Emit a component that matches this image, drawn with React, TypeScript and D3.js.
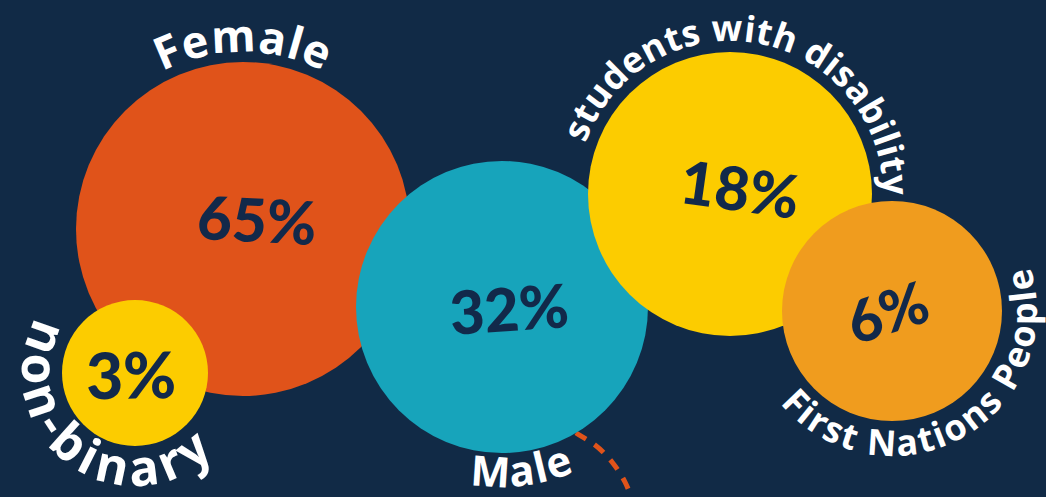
import React from "react";
import * as d3 from "d3";

// ---- data ----
const categories = ["Female", "non-binary", "Male", "students with disability", "First Nations People"];
const percentages = [65, 3, 32, 18, 6];

// ---- layout (pixels) ----
const W = 1046;
const H = 497;
const circleLayout = [
  { cx: 243, cy: 229, r: 167 },
  { cx: 135, cy: 373, r: 73 },
  { cx: 502, cy: 307, r: 146 },
  { cx: 730, cy: 194, r: 142 },
  { cx: 892, cy: 311, r: 110 },
];
const circleColors = ["#e0531a", "#fccc00", "#17a4bb", "#fccc00", "#f09c1e"];
// label arcs: direction, centre angle (deg, clockwise from top), baseline radius, font size, letter spacing
const labelLayout = [
  { dir: "cw", angle: 0, radius: 177, size: 45, spacing: 0.8 },
  { dir: "ccw", angle: 216, radius: 113, size: 50, spacing: 5.5 },
  { dir: "ccw", angle: 173, radius: 180, size: 42, spacing: 1.5 },
  { dir: "cw", angle: 10, radius: 153, size: 36, spacing: 0.3 },
  { dir: "ccw", angle: 151, radius: 145, size: 36, spacing: 2 },
];
// value text placement
const valueLayout = [
  { x: 257, y: 219, rot: 3, size: 60 },
  { x: 131, y: 374, rot: -1, size: 64 },
  { x: 509, y: 308, rot: -4, size: 60 },
  { x: 740, y: 188, rot: 8, size: 60 },
  { x: 887, y: 311, rot: -18, size: 58 },
];
const connectorPoints: [number, number][] = [
  [558, 420], [576, 433], [595, 445], [612, 462], [625, 482], [633, 502],
];

const BG = "#112a46";
const INK = "#12294a";

function arcPath(cx: number, cy: number, r: number, center: number, dir: string) {
  const half = 170;
  const rad = (a: number) => (a * Math.PI) / 180;
  const pt = (a: number) => [cx + r * Math.sin(rad(a)), cy - r * Math.cos(rad(a))];
  if (dir === "cw") {
    const s = pt(center - half);
    const e = pt(center + half);
    return `M${s[0]},${s[1]} A${r},${r} 0 1 1 ${e[0]},${e[1]}`;
  }
  const s = pt(center + half);
  const e = pt(center - half);
  return `M${s[0]},${s[1]} A${r},${r} 0 1 0 ${e[0]},${e[1]}`;
}

export default function App() {
  const line = d3.line().curve(d3.curveNatural)(connectorPoints) || "";
  const fmt = (v: number) => `${d3.format("d")(v)}%`;
  const order = [0, 1, -1, 2, 3, 4]; // -1 = connector behind Male circle

  return (
    <svg
      width={W}
      height={H}
      viewBox={`0 0 ${W} ${H}`}
      style={{ position: "fixed", left: 0, top: 0, display: "block" }}
    >
      <rect x={0} y={0} width={W} height={H} fill={BG} />
      <defs>
        {categories.map((c, i) => {
          const L = circleLayout[i];
          const lab = labelLayout[i];
          return <path key={c} id={`arc-${i}`} d={arcPath(L.cx, L.cy, lab.radius, lab.angle, lab.dir)} fill="none" />;
        })}
      </defs>
      {order.map((i) =>
        i === -1 ? (
          <path key="conn" d={line} fill="none" stroke="#e0531a" strokeWidth={5} strokeDasharray="12 10" />
        ) : (
          <circle key={categories[i]} cx={circleLayout[i].cx} cy={circleLayout[i].cy} r={circleLayout[i].r} fill={circleColors[i]} />
        )
      )}
      {categories.map((c, i) => {
        const lab = labelLayout[i];
        return (
          <text
            key={`l-${c}`}
            fill="#ffffff"
            fontFamily="'Open Sans', Lato, sans-serif"
            fontWeight={700}
            fontSize={lab.size}
            letterSpacing={lab.spacing}
          >
            <textPath href={`#arc-${i}`} startOffset="50%" textAnchor="middle">
              {c}
            </textPath>
          </text>
        );
      })}
      {percentages.map((v, i) => {
        const p = valueLayout[i];
        return (
          <text
            key={`v-${i}`}
            transform={`translate(${p.x},${p.y}) rotate(${p.rot})`}
            textAnchor="middle"
            dominantBaseline="central"
            fill={INK}
            fontFamily="Lato, 'Open Sans', sans-serif"
            fontWeight={900}
            fontSize={p.size}
          >
            {fmt(v)}
          </text>
        );
      })}
    </svg>
  );
}
